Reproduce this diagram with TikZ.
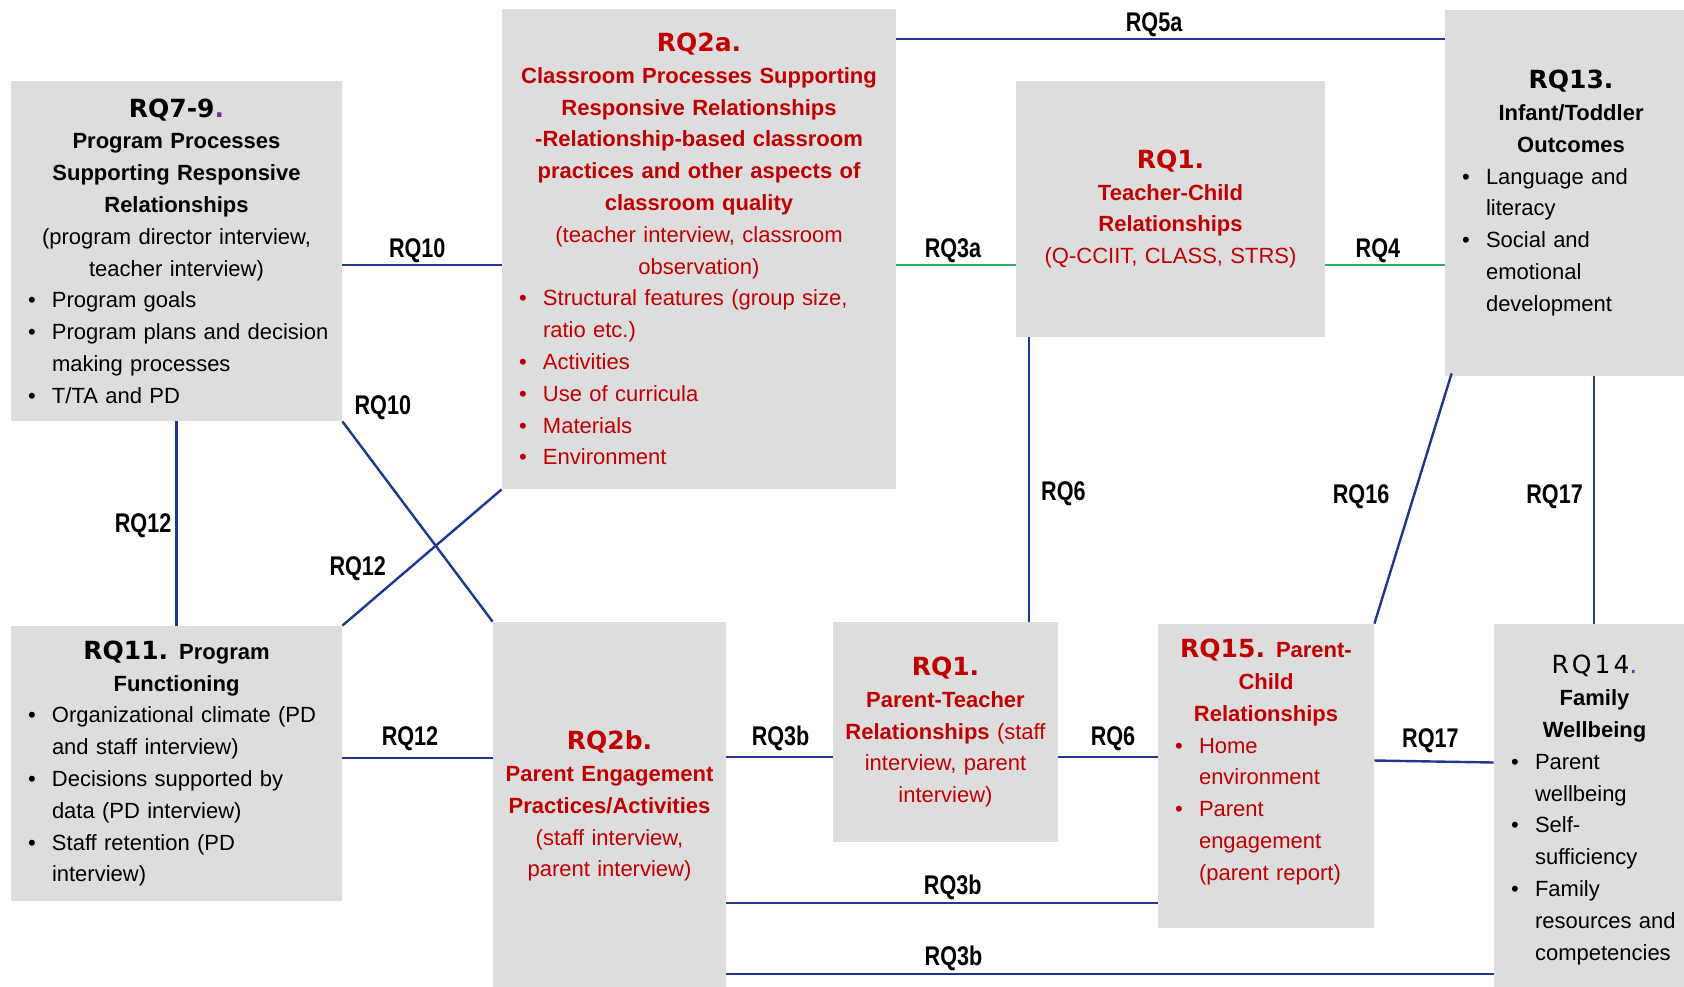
\documentclass[tikz,border=0pt]{standalone}
\usepackage{fontspec}
\setmainfont{Liberation Sans}
\newfontfamily\rqfont{DejaVu Sans}
\newfontfamily\rqspaced{DejaVu Sans}[LetterSpace=12]
\newfontfamily\lblfont{Liberation Sans}[FakeStretch=0.8]
\usetikzlibrary{positioning}

\definecolor{boxgray}{RGB}{221,221,221}
\definecolor{rqred}{RGB}{192,0,0}
\definecolor{lnblue}{RGB}{30,56,146}
\definecolor{lngreen}{RGB}{40,180,90}
\definecolor{dotpurple}{RGB}{112,48,160}

\newcommand{\rqhead}[1]{{\rqfont\bfseries\fontsize{12.5}{15.9}\selectfont #1}}
\newcommand{\pdot}{\textcolor{dotpurple}{.}}
\newcommand{\bitem}[1]{\par\noindent\hangindent=16.5pt\hangafter=1\makebox[16.5pt][l]{\hspace{4.6pt}\textbullet}#1}

\begin{document}
\begin{tikzpicture}[x=0.5pt,y=-0.5pt,
  box/.style n args={3}{fill=boxgray, inner sep=0pt,
    minimum width=#1, minimum height=#2, text width=#3,
    font=\fontsize{11}{15.9}\selectfont},
  redbox/.style n args={3}{box={#1}{#2}{#3}, text=rqred},
  link/.style={draw=lnblue, line width=1.2pt},
  glink/.style={draw=lngreen, line width=1.2pt},
  lbl/.style={font=\lblfont\bfseries\fontsize{13.5}{14}\selectfont, inner sep=0pt}]
  \useasboundingbox (0,0) rectangle (1684,986);

  % top row
  \node[box={165.5pt}{170pt}{157.5pt}] (p79) at (176.5,251) {\centering\rqhead{RQ7-9\pdot}\par
    {\bfseries Program Processes\par Supporting Responsive\par Relationships\par}
    (program director interview,\par teacher interview)\par\raggedright
    \bitem{Program goals}
    \bitem{Program plans and decision\newline making processes}
    \bitem{T/TA and PD}\par};
  \node[redbox={197pt}{240pt}{189pt}] (c2a) at (699,249) {\centering\rqhead{RQ2a.}\par
    {\bfseries Classroom Processes Supporting\par Responsive Relationships\par -Relationship-based classroom\par practices and other aspects of\par classroom quality\par}
    (teacher interview, classroom\par observation)\par\raggedright
    \bitem{Structural features (group size,\newline ratio etc.)}
    \bitem{Activities}
    \bitem{Use of curricula}
    \bitem{Materials}
    \bitem{Environment}\par};
  \node[redbox={154.5pt}{128pt}{146.5pt}] (tc1) at (1170.5,209) {\centering\rqhead{RQ1.}\par
    {\bfseries Teacher-Child\par Relationships\par}
    (Q-CCIIT, CLASS, STRS)\par};
  \node[box={126pt}{183pt}{118pt}] (o13) at (1571,193) {\centering\rqhead{RQ13.}\par
    {\bfseries Infant/Toddler\par Outcomes\par}\raggedright
    \bitem{Language and\newline literacy}
    \bitem{Social and\newline emotional\newline development}\par};

  % bottom row
  \node[box={165.5pt}{137.5pt}{157.5pt}] (f11) at (176.5,763.5) {\centering\rqhead{RQ11.} {\bfseries Program\par Functioning\par}\raggedright
    \bitem{Organizational climate (PD\newline and staff interview)}
    \bitem{Decisions supported by\newline data (PD interview)}
    \bitem{Staff retention (PD\newline interview)}\par};
  \node[redbox={116.5pt}{184pt}{110pt}] (pe2b) at (609.5,806) {\centering\rqhead{RQ2b.}\par
    {\bfseries Parent Engagement\par Practices/Activities\par}
    (staff interview,\par parent interview)\par};
  \node[redbox={112.5pt}{110pt}{104.5pt}] (pt1) at (945.5,732) {\centering\rqhead{RQ1.}\par
    {\bfseries Parent-Teacher\par Relationships} (staff\par interview, parent\par interview)\par};
  \node[redbox={108pt}{152pt}{100pt}] (pc15) at (1266,776) {\centering\rqhead{RQ15.} {\bfseries Parent-\par Child\par Relationships\par}\raggedright
    \bitem{Home\newline environment}
    \bitem{Parent\newline engagement\newline (parent report)}\par\vspace*{14pt}};
  \node[box={100.5pt}{186pt}{92.5pt}] (fw14) at (1594.5,810) {\centering{\rqspaced\fontsize{12.5}{15.9}\selectfont RQ14\pdot}\par
    {\bfseries Family\par Wellbeing\par}\raggedright
    \bitem{Parent\newline wellbeing}
    \bitem{Self-\newline sufficiency}
    \bitem{Family\newline resources and\newline competencies}\par};

  % connectors
  \draw[link] (c2a.east |- 0,39) -- node[lbl,above=0.3pt,pos=0.47]{RQ5a} (o13.west |- 0,39);
  \draw[link] (p79.east |- 0,265) -- node[lbl,above=0.3pt,pos=0.47]{RQ10} (c2a.west |- 0,265);
  \draw[glink] (c2a.east |- 0,265) -- node[lbl,above=0.3pt,pos=0.475]{RQ3a} (tc1.west |- 0,265);
  \draw[glink] (tc1.east |- 0,265) -- node[lbl,above=0.3pt,pos=0.44]{RQ4} (o13.west |- 0,265);
  \draw[link] (p79.south east) -- node[lbl,pos=0,anchor=south west,xshift=5.5pt,yshift=0.25pt]{RQ10} (pe2b.north west);
  \draw[link] (f11.north east) -- node[lbl,pos=0.35,anchor=south east,xshift=-5.5pt,yshift=-2.25pt]{RQ12} (c2a.south west);
  \draw[link] (p79.south) -- node[lbl,left=2pt,yshift=-1pt]{RQ12} (f11.north);
  \draw[link] (f11.east |- 0,758) -- node[lbl,above=2.8pt,pos=0.45]{RQ12} (pe2b.west |- 0,758);
  \draw[link] (tc1.south -| 1029,0) -- node[lbl,right=5.5pt,pos=0.54,yshift=-1.5pt]{RQ6} (pt1.north -| 1029,0);
  \draw[link] (pe2b.east |- 0,757) -- node[lbl,above=2.3pt,pos=0.51]{RQ3b} (pt1.west |- 0,757);
  \draw[link] (pt1.east |- 0,757) -- node[lbl,above=2.3pt,pos=0.55]{RQ6} (pc15.west |- 0,757);
  \draw[link] (pc15.east |- 0,760.5) -- node[lbl,above=3.9pt,pos=0.47]{RQ17} (fw14.west |- 0,762.5);
  \draw[link] (pe2b.east |- 0,903) -- node[lbl,above=1.25pt,pos=0.525]{RQ3b} (pc15.west |- 0,903);
  \draw[link] (pe2b.east |- 0,974) -- node[lbl,above=1.25pt,pos=0.296]{RQ3b} (fw14.west |- 0,974);
  \draw[link] (pc15.north east) -- node[lbl,left=11.8pt,pos=0.514,yshift=-1pt]{RQ16} ([shift={(3.5pt,1.5pt)}]o13.south west);
  \draw[link] (o13.south -| 1594,0) -- node[lbl,left=5pt,pos=0.476,yshift=-1.5pt]{RQ17} (fw14.north -| 1594,0);
\end{tikzpicture}
\end{document}
